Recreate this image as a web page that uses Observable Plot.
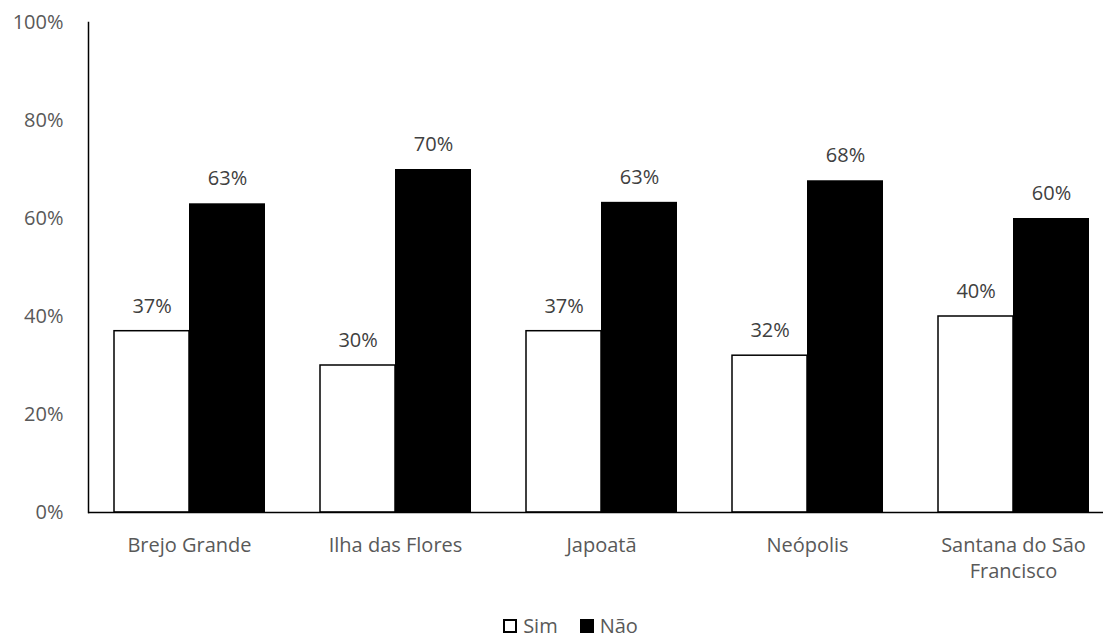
<!DOCTYPE html>
<html>
<head>
<meta charset="utf-8">
<script src="https://cdn.jsdelivr.net/npm/d3@7"></script>
<script src="https://cdn.jsdelivr.net/npm/@observablehq/plot@0.6"></script>
<style>
  body { margin: 0; background: #fff; font-family: "Open Sans", sans-serif; }
  #legend { height: 37px; padding-top: 7px; padding-left: 34px; display: flex; justify-content: center; align-items: center; gap: 22px; font-size: 20px; color: #595959; }
  #legend .item { display: flex; align-items: center; gap: 6px; }
  #legend .sw { width: 14px; height: 14px; box-sizing: border-box; border: 2px solid #000; }
</style>
</head>
<body>
<div id="chart"></div>
<div id="legend"></div>
<script>
const categories = ["Brejo Grande", "Ilha das Flores", "Japoatã", "Neópolis", "Santana do São Francisco"];
const series = ["Sim", "Não"];
const sim = [0.37, 0.30, 0.37, 0.32, 0.40];
const nao = [0.63, 0.70, 0.633, 0.677, 0.60];
const yTicks = [0, 0.2, 0.4, 0.6, 0.8, 1.0];
const fills = {"Sim": "#ffffff", "Não": "#000000"};

const rows = [];
categories.forEach((c, i) => {
  rows.push({cat: c, s: "Sim", v: sim[i]});
  rows.push({cat: c, s: "Não", v: nao[i]});
});
const simRows = rows.filter(d => d.s === "Sim");
const naoRows = rows.filter(d => d.s === "Não");

const pct = d3.format(".0%");
const wrap = c => c === "Santana do São Francisco" ? "Santana do São\nFrancisco" : c;

const chart = Plot.plot({
  width: 1107,
  height: 600,
  marginLeft: 88,
  marginRight: 4,
  marginTop: 22,
  marginBottom: 88,
  style: {fontFamily: "Open Sans, sans-serif", fontSize: "20px", background: "#fff"},
  x: {domain: categories, padding: 0, range: [86, 1116], label: null},
  y: {domain: [0, 1], label: null},
  marks: [
    Plot.barY(simRows, {x: "cat", y: "v", fill: "#fff", stroke: "#000", strokeWidth: 1.5, insetLeft: 28, insetRight: 103}),
    Plot.barY(naoRows, {x: "cat", y: "v", fill: "#000", insetLeft: 103, insetRight: 27}),
    Plot.text(simRows, {x: "cat", y: "v", text: d => pct(d.v), dx: -37.4, dy: -25, fill: "#404040", fontSize: 20}),
    Plot.text(naoRows, {x: "cat", y: "v", text: d => pct(d.v), dx: 38, dy: -25, fill: "#404040", fontSize: 20}),
    Plot.ruleY([0], {stroke: "#000", strokeWidth: 1.5}),
    Plot.frame({anchor: "left", stroke: "#000", strokeWidth: 1.5}),
    Plot.axisY({ticks: yTicks, tickFormat: pct, tickSize: 0, tickPadding: 25, fill: "#595959", fontSize: 20}),
    Plot.axisX({tickFormat: wrap, tickSize: 0, tickPadding: 21, fill: "#595959", fontSize: 20, lineHeight: 1.3})
  ]
});
document.getElementById("chart").appendChild(chart);

const legend = document.getElementById("legend");
series.forEach(s => {
  const item = document.createElement("div");
  item.className = "item";
  const sw = document.createElement("div");
  sw.className = "sw";
  sw.style.background = fills[s];
  const lab = document.createElement("span");
  lab.textContent = s;
  item.appendChild(sw);
  item.appendChild(lab);
  legend.appendChild(item);
});
</script>
</body>
</html>
